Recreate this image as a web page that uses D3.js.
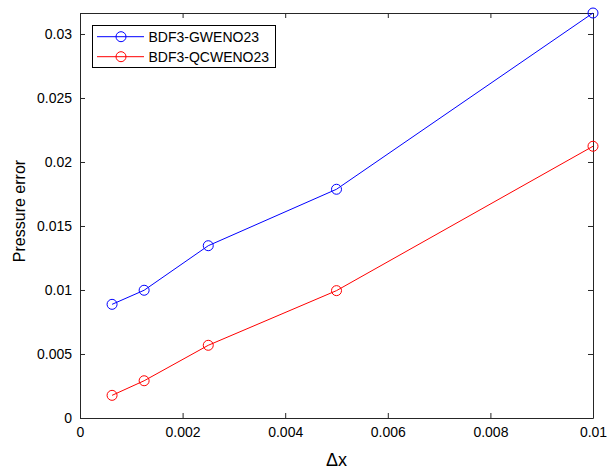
<!DOCTYPE html>
<html>
<head>
<meta charset="utf-8">
<script src="https://cdn.jsdelivr.net/npm/d3@7"></script>
<style>
  html, body { margin: 0; padding: 0; background: #fff; }
  text { font-family: "Liberation Sans", Arial, Helvetica, sans-serif; }
</style>
</head>
<body>
<svg id="chart" width="609" height="469"></svg>
<script>
const dx = [0.000625, 0.00125, 0.0025, 0.005, 0.01];
const gweno = [0.00888, 0.00998, 0.01346, 0.01787, 0.03164];
const qcweno = [0.00177, 0.00291, 0.00568, 0.00995, 0.02123];
const seriesNames = ["BDF3-GWENO23", "BDF3-QCWENO23"];
const seriesColors = ["#0000ff", "#ff0000"];
const xTicks = [0, 0.002, 0.004, 0.006, 0.008, 0.01];
const xTickLabels = ["0", "0.002", "0.004", "0.006", "0.008", "0.01"];
const yTicks = [0, 0.005, 0.01, 0.015, 0.02, 0.025, 0.03];
const yTickLabels = ["0", "0.005", "0.01", "0.015", "0.02", "0.025", "0.03"];
const xLabel = "\u0394x";
const yLabel = "Pressure error";

const svg = d3.select("#chart");
const L = 80, R = 593, T = 13, B = 418;
const x = d3.scaleLinear().domain([0, 0.01]).range([L, R]);
const y = d3.scaleLinear().domain([0, 0.03164]).range([B, T]);
const axisColor = "#262626";
const tickLen = 5;

// axes (box)
const gx = svg.append("g").attr("transform", `translate(0,${B})`)
  .call(d3.axisBottom(x).tickValues(xTicks).tickFormat((d,i)=>xTickLabels[i]).tickSizeInner(-tickLen).tickSizeOuter(0).tickPadding(9));
const gxt = svg.append("g").attr("transform", `translate(0,${T})`)
  .call(d3.axisTop(x).tickValues(xTicks).tickFormat("").tickSizeInner(-tickLen).tickSizeOuter(0));
const gy = svg.append("g").attr("transform", `translate(${L},0)`)
  .call(d3.axisLeft(y).tickValues(yTicks).tickFormat((d,i)=>yTickLabels[i]).tickSizeInner(-tickLen).tickSizeOuter(0).tickPadding(8));
const gyr = svg.append("g").attr("transform", `translate(${R},0)`)
  .call(d3.axisRight(y).tickValues(yTicks).tickFormat("").tickSizeInner(-tickLen).tickSizeOuter(0));
[gx, gxt, gy, gyr].forEach(g => {
  g.selectAll("path.domain").attr("stroke", axisColor).attr("stroke-width", 1);
  g.selectAll(".tick line").attr("stroke", axisColor).attr("stroke-width", 1);
  g.selectAll(".tick text").attr("fill", "#000").style("font-size", "14px")
    .style("font-family", "'Liberation Sans', Arial, sans-serif");
});

// data series
const allSeries = [gweno, qcweno];
allSeries.forEach((vals, si) => {
  const pts = dx.map((d, i) => [d, vals[i]]);
  svg.append("path").datum(pts)
    .attr("fill", "none").attr("stroke", seriesColors[si]).attr("stroke-width", 1)
    .attr("d", d3.line().x(d => x(d[0])).y(d => y(d[1])));
  svg.append("g").selectAll("circle").data(pts).join("circle")
    .attr("cx", d => x(d[0])).attr("cy", d => y(d[1])).attr("r", 5)
    .attr("fill", "none").attr("stroke", seriesColors[si]).attr("stroke-width", 1);
});

// axis labels
svg.append("text").attr("x", (L + R) / 2).attr("y", 465.5).attr("text-anchor", "middle")
  .style("font-size", "18px").attr("fill", "#000").text(xLabel);
svg.append("text").attr("transform", `translate(25,211) rotate(-90)`)
  .attr("text-anchor", "middle").style("font-size", "16px").attr("fill", "#000").text(yLabel);

// legend
const lg = svg.append("g");
lg.append("rect").attr("x", 92.5).attr("y", 25.5).attr("width", 183).attr("height", 42)
  .attr("fill", "#fff").attr("stroke", "#000").attr("stroke-width", 1);
seriesNames.forEach((name, i) => {
  const yy = 36.7 + i * 20;
  lg.append("line").attr("x1", 97).attr("x2", 144).attr("y1", yy).attr("y2", yy)
    .attr("stroke", seriesColors[i]).attr("stroke-width", 1);
  lg.append("circle").attr("cx", 121).attr("cy", yy).attr("r", 5)
    .attr("fill", "none").attr("stroke", seriesColors[i]).attr("stroke-width", 1);
  lg.append("text").attr("x", 148.5).attr("y", yy + 5).style("font-size", "14px")
    .attr("fill", "#000").text(name);
});
</script>
</body>
</html>
